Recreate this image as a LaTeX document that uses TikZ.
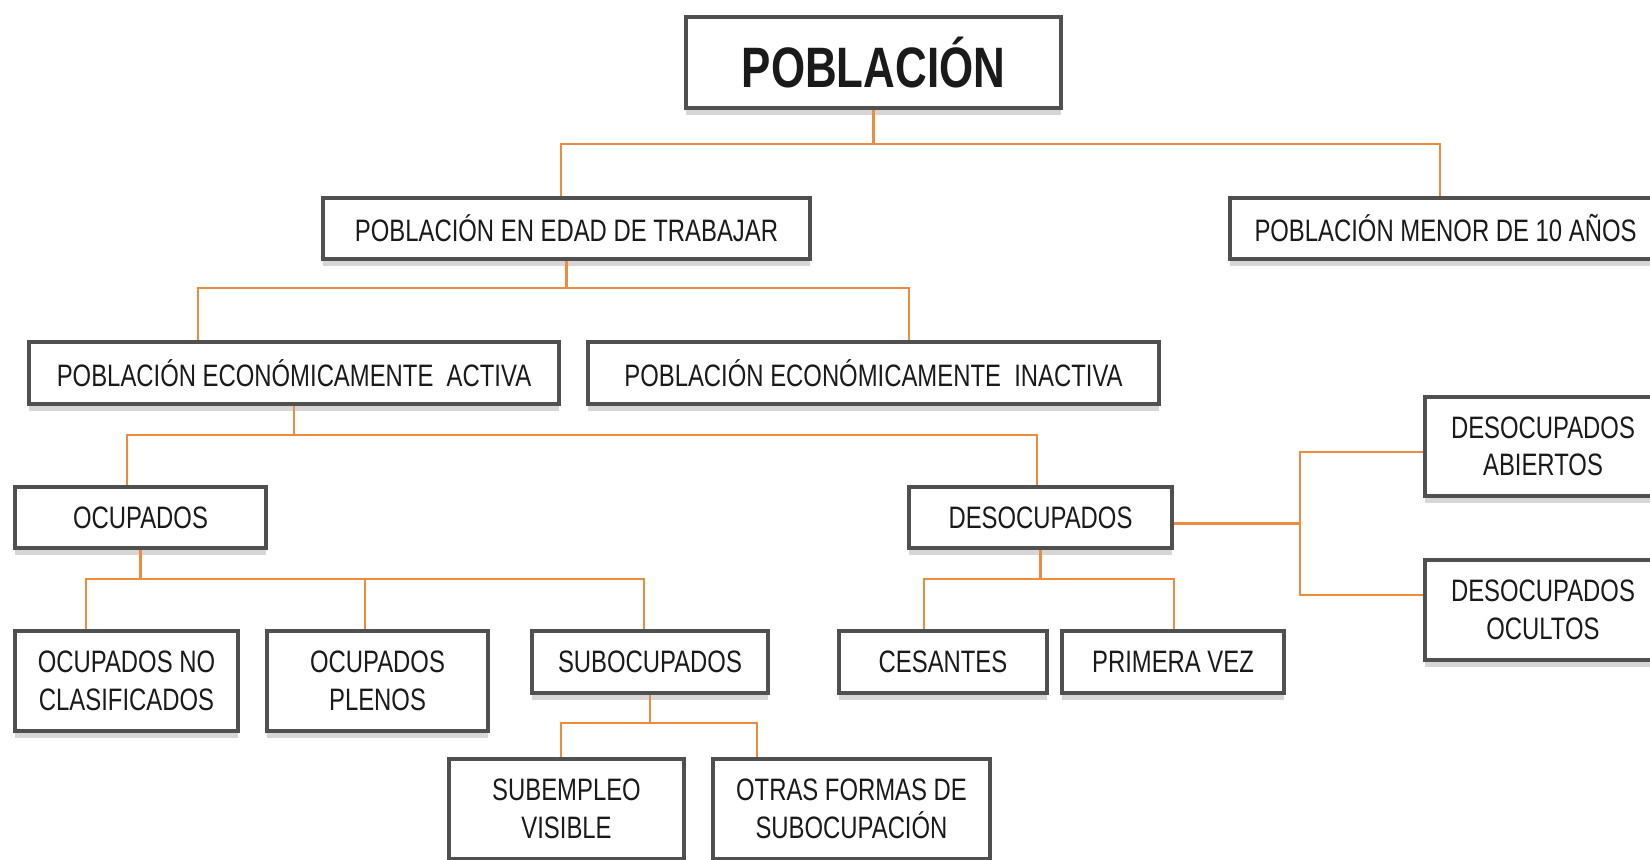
\documentclass[tikz,border=0pt]{standalone}
\usepackage{fontspec}
\setmainfont{Liberation Sans}[FakeStretch=0.77]
\usetikzlibrary{shadows}
\definecolor{boxgray}{HTML}{505050}
\definecolor{linkorange}{HTML}{ED8B3F}
\definecolor{inkblack}{HTML}{1A1A1A}
\tikzset{
  box/.style={draw=boxgray, line width=2pt, fill=white, text=inkblack,
    align=center, inner sep=0pt, font=\fontsize{15.5}{18.7}\selectfont,
    drop shadow={shadow xshift=0pt, shadow yshift=-3.5pt, opacity=0.16, fill=black}},
  dims/.style 2 args={minimum width=#1pt, minimum height=#2pt},
  link/.style={draw=linkorange, line width=1.1pt}
}

\begin{document}
\begin{tikzpicture}[x=0.5pt,y=-0.5pt]
      \useasboundingbox (0,0) rectangle (1650,859);
      \clip (0,0) rectangle (1650,859);
      \draw
        (873.5,62.5) node[box, dims={187.5}{45.5}, font=\bfseries\fontsize{28.5}{32}\selectfont] (pob){POBLACIÓN}
        (566.5,228.5) node[box, dims={243.5}{30.5}] (pet){POBLACIÓN EN EDAD DE TRABAJAR}
        (1445.5,228.5) node[box, dims={215.5}{30.5}] (menor){POBLACIÓN MENOR DE 10 AÑOS}
        (294,373) node[box, dims={265}{31}] (pea){POBLACIÓN ECONÓMICAMENTE~ ACTIVA}
        (873.5,373) node[box, dims={285.5}{31}] (pei){POBLACIÓN ECONÓMICAMENTE~ INACTIVA}
        (140.5,517.5) node[box, dims={125.5}{30.5}] (ocu){OCUPADOS}
        (1040.5,517.5) node[box, dims={131.5}{30.5}] (deso){DESOCUPADOS}
        (1543,446.5) node[box, dims={118}{49.5}] (abi){DESOCUPADOS\\ABIERTOS}
        (1543,610) node[box, dims={118}{50}] (ocul){DESOCUPADOS\\OCULTOS}
        (126.5,681) node[box, dims={111.5}{50}] (nocl){OCUPADOS NO\\CLASIFICADOS}
        (377.5,681) node[box, dims={110.5}{50}] (plen){OCUPADOS\\PLENOS}
        (650,662) node[box, dims={118}{31}] (subo){SUBOCUPADOS}
        (943,662) node[box, dims={104}{31}] (ces){CESANTES}
        (1173,662) node[box, dims={111}{31}] (prim){PRIMERA VEZ}
        (566.5,809) node[box, dims={117.5}{50}] (subv){SUBEMPLEO\\VISIBLE}
        (851.5,809) node[box, dims={138.5}{50}] (otra){OTRAS FORMAS DE\\SUBOCUPACIÓN};
      \begin{scope}[link]
        \draw (pob.south) -- (pob.south |- 0,144) coordinate (j1);
        \draw (j1) -| (pet.north -| 561,0);
        \draw (j1) -| (menor.north -| 1440,0);
        \draw (pet.south) -- (pet.south |- 0,288) coordinate (j2);
        \draw (j2) -| (pea.north -| 198,0);
        \draw (j2) -| (pei.north -| 909,0);
        \draw (pea.south) -- (pea.south |- 0,435) coordinate (j3);
        \draw (j3) -| (ocu.north -| 127,0);
        \draw (j3) -| (deso.north -| 1037,0);
        \draw (ocu.south) -- (ocu.south |- 0,579) coordinate (j4);
        \draw (j4) -| (nocl.north -| 86,0);
        \draw (j4) -| (plen.north -| 365,0);
        \draw (j4) -| (subo.north -| 644,0);
        \draw (deso.south) -- (deso.south |- 0,579) coordinate (j5);
        \draw (j5) -| (ces.north -| 924,0);
        \draw (j5) -| (prim.north -| 1174,0);
        \draw (subo.south) -- (subo.south |- 0,723) coordinate (j6);
        \draw (j6) -| (subv.north -| 561,0);
        \draw (j6) -| (otra.north -| 757,0);
        \draw ([yshift=-3pt]deso.east) -- ++(126,0) coordinate (j7);
        \draw (j7) |- (abi.west |- 0,452);
        \draw (j7) |- (ocul.west |- 0,595);
      \end{scope}
    \end{tikzpicture}
\end{document}
